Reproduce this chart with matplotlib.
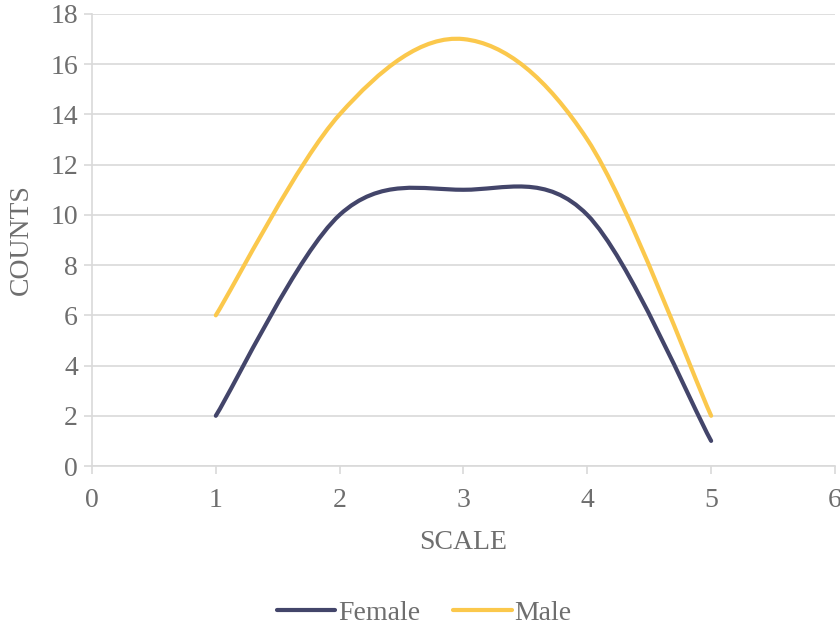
import numpy as np
import matplotlib
matplotlib.use('Agg')
import matplotlib.pyplot as plt
from matplotlib.path import Path
from matplotlib.patches import PathPatch
from matplotlib.lines import Line2D

plt.rcParams['font.family'] = ['Liberation Serif', 'DejaVu Serif']

# ================================== data ==================================
scale = [1, 2, 3, 4, 5]
female = [2, 10, 11, 10, 1]
male = [6, 14, 17, 13, 2]

female_color = '#43456a'
male_color = '#fbc84c'
text_color = '#6e6e6e'
grid_color = '#d9d9d9'


def smooth_path(xs, ys):
    # Excel-style smoothed line: cubic bezier through each point
    pts = np.column_stack((xs, ys)).astype(float)
    n = len(pts)
    verts = [pts[0]]
    codes = [Path.MOVETO]
    for i in range(n - 1):
        p0 = pts[max(i - 1, 0)]
        p1 = pts[i]
        p2 = pts[i + 1]
        p3 = pts[min(i + 2, n - 1)]
        c1 = p1 + (p2 - p0) / 6.0
        c2 = p2 - (p3 - p1) / 6.0
        verts += [c1, c2, p2]
        codes += [Path.CURVE4] * 3
    return Path(verts, codes)


fig = plt.figure(figsize=(8.4, 6.3), dpi=100)
ax = fig.add_axes([0.1095, 0.2603, 0.8845, 0.7175])

for ys, col in [(female, female_color), (male, male_color)]:
    patch = PathPatch(smooth_path(scale, ys), facecolor='none', edgecolor=col,
                      linewidth=3, capstyle='round', joinstyle='round', zorder=3)
    ax.add_patch(patch)

ax.set_xlim(0, 6)
ax.set_ylim(0, 18)
ax.set_xticks(range(0, 7))
ax.set_yticks(range(0, 19, 2))

ax.grid(axis='y', color=grid_color, linewidth=1.2)
ax.set_axisbelow(True)
for side in ['top', 'right']:
    ax.spines[side].set_visible(False)
for side in ['left', 'bottom']:
    ax.spines[side].set_color(grid_color)
    ax.spines[side].set_linewidth(1.2)

ax.tick_params(axis='both', colors=grid_color, width=1.2, length=6,
               labelcolor=text_color, labelsize=20)
ax.tick_params(axis='x', pad=10)
ax.tick_params(axis='y', pad=4)

ax.set_xlabel('SCALE', fontsize=20, color=text_color, labelpad=12)
ax.set_ylabel('COUNTS', fontsize=20, color=text_color, labelpad=12)

handles = [Line2D([], [], color=female_color, linewidth=3, solid_capstyle='round'),
           Line2D([], [], color=male_color, linewidth=3, solid_capstyle='round')]
fig.legend(handles, ['Female', 'Male'], loc='center', bbox_to_anchor=(0.505, 0.027),
           ncol=2, frameon=False, fontsize=20, handlelength=2.1,
           handletextpad=0.1, columnspacing=1.2, labelcolor=text_color)

fig.savefig('out.png', dpi=100)
